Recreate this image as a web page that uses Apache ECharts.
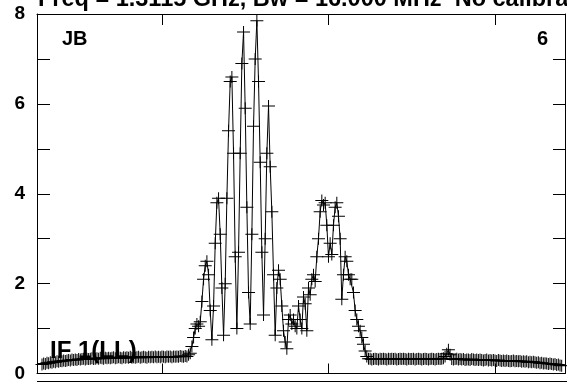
<!DOCTYPE html>
<html lang="en">

<head>
  <meta charset="UTF-8" />
  <title>JB IF 1(LL)</title>
  <script src="https://cdn.jsdelivr.net/npm/echarts@6/dist/echarts.min.js"></script>
  <style>
    html, body { margin: 0; padding: 0; background: #fff; }
  </style>
</head>

<body>
  <div id="main" style="width: 567px;height:383px;"></div>
  <script type="text/javascript">
    // first channel of the spectrum
    const firstChannel = 28

    // amplitude per channel (baseline, line region, baseline)
    const leftBase = [
      0.20, 0.22, 0.21, 0.24, 0.23, 0.25, 0.24, 0.26, 0.25, 0.27,
      0.26, 0.28, 0.27, 0.29, 0.28, 0.29, 0.30, 0.29, 0.31, 0.30,
      0.31, 0.30, 0.32, 0.31, 0.32, 0.33, 0.31, 0.33, 0.32, 0.33,
      0.34, 0.32, 0.33, 0.34, 0.33, 0.35, 0.34, 0.33, 0.35, 0.34,
      0.35, 0.34, 0.35, 0.36, 0.34, 0.35, 0.36, 0.35, 0.34, 0.36,
      0.35, 0.36, 0.35, 0.37, 0.35, 0.36, 0.35, 0.36, 0.37, 0.35,
      0.36, 0.37, 0.36, 0.35, 0.37, 0.36, 0.37, 0.36, 0.38, 0.36,
      0.37, 0.36, 0.38, 0.37, 0.36, 0.38, 0.37, 0.38, 0.36, 0.38,
      0.37, 0.38, 0.37, 0.39, 0.38, 0.37, 0.39, 0.38
    ]
    const lineRegion = [
      0.42, 0.45, 0.60, 0.80, 1.00, 1.10, 1.05, 1.15, 1.60, 2.10,
      2.40, 2.50, 2.20, 1.40, 0.75, 1.50, 2.90, 3.80, 3.90, 3.10,
      1.90, 0.85, 2.00, 3.90, 5.40, 6.50, 6.60, 4.90, 2.60, 1.00,
      2.70, 4.90, 6.90, 7.60, 5.90, 3.70, 1.80, 1.10, 3.10, 5.50,
      7.00, 7.85, 6.50, 4.70, 2.70, 1.30, 3.00, 4.90, 5.95, 4.60,
      3.60, 2.20, 0.85, 1.90, 2.30, 2.10, 1.50, 0.95, 0.70, 0.55,
      1.20, 1.30, 1.10, 1.20, 1.05, 1.00, 1.50, 1.20, 1.00, 1.70,
      1.55, 0.95, 1.90, 1.75, 2.10, 2.20, 2.05, 2.60, 3.00, 3.60,
      3.85, 3.75, 3.80, 3.30, 2.60, 2.90, 2.65, 3.30, 3.70, 3.80,
      3.50, 3.00, 1.65, 2.20, 2.60, 2.50, 2.20, 2.10, 2.10, 1.80,
      1.40, 1.20, 1.05, 0.95, 0.80, 0.65, 0.50, 0.38, 0.33
    ]
    const rightBase = [
      0.33, 0.31, 0.32, 0.33, 0.32, 0.31, 0.33, 0.32, 0.33,
      0.32, 0.31, 0.33, 0.32, 0.33, 0.32, 0.33, 0.31, 0.32, 0.33,
      0.32, 0.33, 0.32, 0.31, 0.33, 0.32, 0.32, 0.33, 0.31, 0.32,
      0.33, 0.32, 0.31, 0.32, 0.33, 0.32, 0.31, 0.32, 0.33, 0.32,
      0.31, 0.32, 0.33, 0.32, 0.33, 0.34, 0.38, 0.44, 0.53, 0.42,
      0.32, 0.31, 0.32, 0.33, 0.31, 0.32, 0.31, 0.32, 0.30, 0.31,
      0.31, 0.30, 0.32, 0.31, 0.30, 0.31, 0.30, 0.31, 0.30, 0.29,
      0.30, 0.31, 0.29, 0.30, 0.29, 0.30, 0.29, 0.28, 0.30, 0.29,
      0.28, 0.29, 0.28, 0.29, 0.28, 0.27, 0.28, 0.29, 0.27, 0.28,
      0.27, 0.28, 0.26, 0.27, 0.26, 0.27, 0.25, 0.26, 0.25, 0.26,
      0.25, 0.24, 0.25, 0.23, 0.24, 0.22, 0.23, 0.22, 0.21, 0.22,
      0.21, 0.20, 0.21, 0.19, 0.20, 0.18, 0.17
    ]

    // axis ticks
    const yTicks = [0, 1, 2, 3, 4, 5, 6, 7, 8]
    const xTicks = [100, 200, 300]

    const amps = leftBase.concat(lineRegion, rightBase)
    const points = amps.map(function (v, i) {
      return [firstChannel + i, v]
    })

    var myChart = echarts.init(document.getElementById('main'))

    const font = 'Liberation Sans, Arial, sans-serif'
    const frame = { show: true, onZero: false, lineStyle: { color: '#000', width: 1 } }
    const tickStyle = { color: '#000', width: 1 }

    var option = {
      animation: false,
      backgroundColor: '#fff',
      grid: { left: 37, top: 14, right: 2, bottom: 6 },
      xAxis: [{
        type: 'value', position: 'bottom', min: 25, max: 342,
        axisLine: frame,
        axisTick: { show: true, inside: true, length: 10, lineStyle: tickStyle, customValues: xTicks },
        axisLabel: { show: false },
        splitLine: { show: false }
      }, {
        type: 'value', position: 'top', min: 25, max: 342,
        axisLine: frame,
        axisTick: { show: true, inside: true, length: 11, lineStyle: tickStyle, customValues: xTicks },
        axisLabel: { show: false },
        splitLine: { show: false }
      }],
      yAxis: [{
        type: 'value', position: 'left', min: 0, max: 8, interval: 1,
        axisLine: frame,
        axisTick: { show: true, inside: true, length: 13, lineStyle: tickStyle, customValues: yTicks },
        axisLabel: {
          margin: 12, color: '#000', fontSize: 19, fontWeight: 'bold', fontFamily: font,
          formatter: function (v) { return v % 2 === 0 ? String(v) : '' }
        },
        splitLine: { show: false }
      }, {
        type: 'value', position: 'right', min: 0, max: 8, interval: 1,
        axisLine: frame,
        axisTick: { show: true, inside: true, length: 12, lineStyle: tickStyle, customValues: yTicks },
        axisLabel: { show: false },
        splitLine: { show: false }
      }],
      graphic: [{
        type: 'text', left: 38, top: -12,
        style: { text: 'Freq = 1.3115 GHz, Bw = 16.000 MHz  No calibration', font: 'bold 23.5px ' + font, fill: '#000' }
      }, {
        type: 'text', left: 62, top: 29,
        style: { text: 'JB', font: 'bold 20px ' + font, fill: '#000' }
      }, {
        type: 'text', left: 537, top: 29,
        style: { text: '6', font: 'bold 20px ' + font, fill: '#000' }
      }, {
        type: 'text', left: 50, top: 339, z: 10,
        style: { text: 'IF 1(LL)', font: 'bold 24px ' + font, fill: '#000' }
      }, {
        type: 'line', shape: { x1: 37, y1: 381.5, x2: 567, y2: 381.5 },
        style: { stroke: '#000', lineWidth: 1 }
      }],
      series: [{
        type: 'line',
        xAxisIndex: 0,
        yAxisIndex: 0,
        data: points,
        showAllSymbol: true,
        symbol: 'path://M0,5.5H13V6.5H0Z M6,0H7V12H6Z',
        symbolSize: [13, 12],
        itemStyle: { color: '#000' },
        lineStyle: { color: '#000', width: 1 }
      }]
    }

    myChart.setOption(option)
  </script>
</body>

</html>
